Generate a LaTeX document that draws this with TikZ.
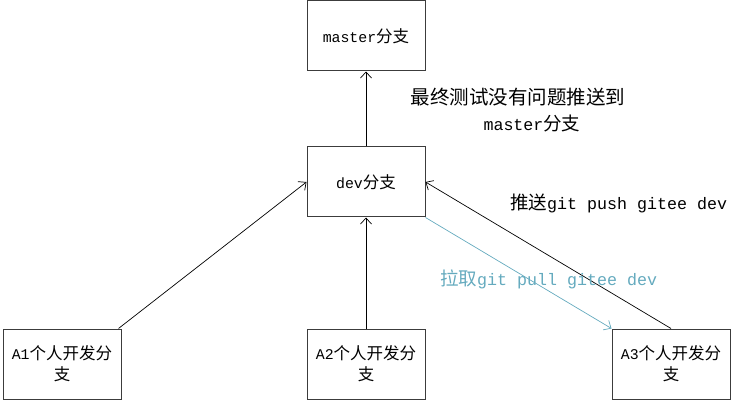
\documentclass[tikz,border=0pt]{standalone}
\usepackage{fontspec}
\setmainfont{Noto Sans CJK SC}
\newfontfamily\lm{Liberation Mono}[Scale=0.9]
\usetikzlibrary{arrows.meta,positioning}
\definecolor{pullc}{RGB}{100,170,190}
\definecolor{boxc}{RGB}{60,60,60}
\tikzset{
  box/.style={draw=boxc,line width=1pt,minimum width=118pt,minimum height=70pt,align=center,inner sep=2pt,font=\fontsize{16.5}{21}\selectfont},
  conn/.style={line width=0.7pt,-{Straight Barb[length=6pt,width=11pt]}},
  lbl/.style={font=\fontsize{18.5}{22}\selectfont,inner sep=0pt}
}
\begin{document}
\begin{tikzpicture}[x=1pt,y=-1pt]
\useasboundingbox (0,0) rectangle (740,401);
\node[box] (master) at (366,36) {{\lm master}分支};
\node[box] (dev) at (366,182) {{\lm dev}分支};
\node[box] (A1) at (62,364) {{\lm A1}个人开发分\\支};
\node[box] (A2) at (366,364) {{\lm A2}个人开发分\\支};
\node[box] (A3) at (671,364) {{\lm A3}个人开发分\\支};
\draw[conn] (dev) -- (master);
\draw[conn] ([xshift=-3pt]A1.north east) -- (dev.west);
\draw[conn] (A2) -- (dev);
\draw[conn] (A3.north) -- (dev.east);
\draw[conn,pullc] (dev.south east) -- (A3.north west);
\node[lbl,font=\fontsize{19.5}{23}\selectfont] (t1) at (518,97) {最终测试没有问题推送到};
\node[lbl] (t2) at (532,123) {{\lm master}分支};
\node[lbl,anchor=west] (t3) at (510,203) {推送{\lm git push gitee dev}};
\node[lbl,anchor=west,text=pullc] (t4) at (440,279) {拉取{\lm git pull gitee dev}};
\end{tikzpicture}
\end{document}
